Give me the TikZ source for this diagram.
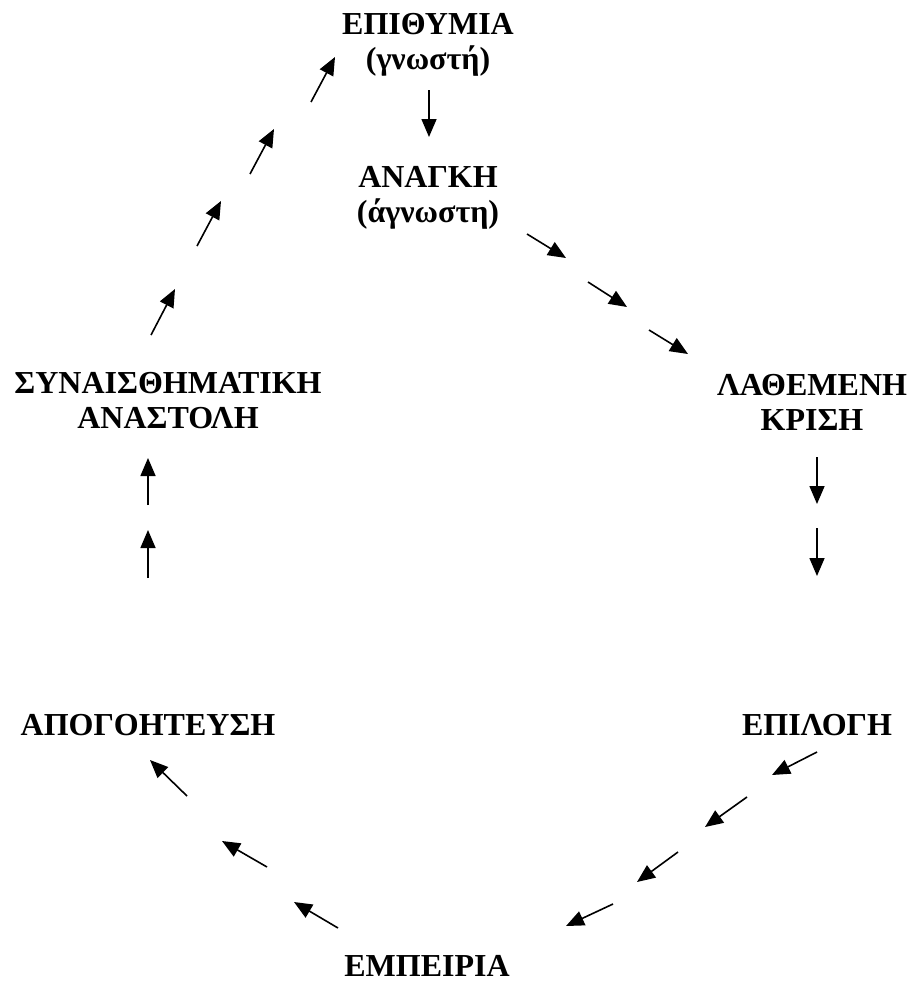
\documentclass[tikz,border=0pt]{standalone}
\usepackage{fontspec}
\setmainfont{Liberation Serif}
\usetikzlibrary{arrows.meta}
\tikzset{
  lbl/.style={font=\fontsize{32}{35}\selectfont\bfseries, align=center, inner sep=0pt, anchor=base},
  seg/.style={line width=1.6pt, -{Triangle[length=18pt,width=15pt]}}
}
\begin{document}
\begin{tikzpicture}[x=1pt,y=-1pt]
\useasboundingbox (0,0) rectangle (914,982);
% labels (anchor = baseline of last line)
\node[lbl] (epi)  at (428,70)  {ΕΠΙΘΥΜΙΑ\\(γνωστή)};
\node[lbl] (anag) at (428,222) {ΑΝΑΓΚΗ\\(άγνωστη)};
\node[lbl] (lath) at (812,430) {ΛΑΘΕΜΕΝΗ\\ΚΡΙΣΗ};
\node[lbl] (epil) at (817,735) {ΕΠΙΛΟΓΗ};
\node[lbl] (emp)  at (427,976) {ΕΜΠΕΙΡΙΑ};
\node[lbl] (apog) at (148,735) {ΑΠΟΓΟΗΤΕΥΣΗ};
\node[lbl] (syn)  at (168,428) {ΣΥΝΑΙΣΘΗΜΑΤΙΚΗ\\ΑΝΑΣΤΟΛΗ};
% segment end points
\coordinate (a1) at (429,90);  \coordinate (a2) at (429,137);
\coordinate (b1) at (527,234); \coordinate (b2) at (566,258);
\coordinate (b3) at (588,282); \coordinate (b4) at (627,307);
\coordinate (b5) at (649,330); \coordinate (b6) at (688,354);
\coordinate (c1) at (817,457); \coordinate (c2) at (817,504);
\coordinate (c3) at (817,528); \coordinate (c4) at (817,576);
\coordinate (d1) at (817,752); \coordinate (d2) at (772,775);
\coordinate (d3) at (747,797); \coordinate (d4) at (705,827);
\coordinate (d5) at (678,852); \coordinate (d6) at (637,882);
\coordinate (d7) at (613,904); \coordinate (d8) at (566,926);
\coordinate (e1) at (338,928); \coordinate (e2) at (294,902);
\coordinate (e3) at (267,867); \coordinate (e4) at (222,841);
\coordinate (e5) at (187,796); \coordinate (e6) at (150,760);
\coordinate (f1) at (148,578); \coordinate (f2) at (148,530);
\coordinate (f3) at (148,505); \coordinate (f4) at (148,458);
\coordinate (g1) at (151,335); \coordinate (g2) at (175,289);
\coordinate (g3) at (197,246); \coordinate (g4) at (221,201);
\coordinate (g5) at (250,174); \coordinate (g6) at (274,129);
\coordinate (g7) at (311,102); \coordinate (g8) at (335,57);
% arrows
\draw[seg] (a1) -- (a2);
\draw[seg] (b1) -- (b2);
\draw[seg] (b3) -- (b4);
\draw[seg] (b5) -- (b6);
\draw[seg] (c1) -- (c2);
\draw[seg] (c3) -- (c4);
\draw[seg] (d1) -- (d2);
\draw[seg] (d3) -- (d4);
\draw[seg] (d5) -- (d6);
\draw[seg] (d7) -- (d8);
\draw[seg] (e1) -- (e2);
\draw[seg] (e3) -- (e4);
\draw[seg] (e5) -- (e6);
\draw[seg] (f1) -- (f2);
\draw[seg] (f3) -- (f4);
\draw[seg] (g1) -- (g2);
\draw[seg] (g3) -- (g4);
\draw[seg] (g5) -- (g6);
\draw[seg] (g7) -- (g8);
\end{tikzpicture}
\end{document}
